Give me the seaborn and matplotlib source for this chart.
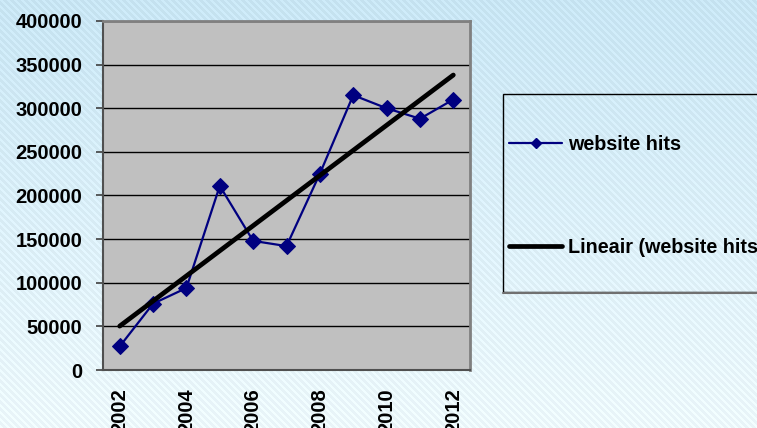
import numpy as np
import pandas as pd
import matplotlib
matplotlib.use("Agg")
import matplotlib.pyplot as plt
from matplotlib.patches import Rectangle
from matplotlib.lines import Line2D
from matplotlib.ticker import FuncFormatter
import seaborn as sns

# Yearly website hits
years = [2002, 2003, 2004, 2005, 2006, 2007, 2008, 2009, 2010, 2011, 2012]
hits = [27000, 76000, 94000, 211000, 148000, 142000, 225000, 315000, 300000, 288000, 310000]
labelled_years = [2002, 2004, 2006, 2008, 2010, 2012]
y_ticks = [0, 50000, 100000, 150000, 200000, 250000, 300000, 350000, 400000]
series_label = "website hits"
trend_label = "Lineair (website hits)"

sns.set_style("white")
plt.rcParams["font.family"] = ["Liberation Sans", "DejaVu Sans"]
plt.rcParams["font.weight"] = "bold"
plt.rcParams["text.color"] = "black"
plt.rcParams["xtick.labelcolor"] = "black"
plt.rcParams["ytick.labelcolor"] = "black"

W, H = 757, 428
fig = plt.figure(figsize=(W / 100, H / 100), dpi=100)

# striped light-blue backdrop
bg = fig.add_axes([0, 0, 1, 1], zorder=-10)
yy, xx = np.mgrid[0:H, 0:W]
t = (yy / (H - 1))[..., None]
top = np.array([0.77, 0.885, 0.94])
bot = np.array([0.915, 0.96, 0.975])
base = top * (1 - t) + bot * t
stripe = (((xx - yy) % 7) < 3)[..., None]
img = np.clip(base + stripe * 0.04, 0, 1)
bg.imshow(img, aspect="auto", interpolation="nearest")
bg.axis("off")

# plot area
ax = fig.add_axes([103 / W, 1 - 370 / H, 367 / W, 349 / H])
ax.set_facecolor("#c0c0c0")

df = pd.DataFrame({"pos": np.arange(len(years)), "hits": hits})
sns.lineplot(data=df, x="pos", y="hits", ax=ax, color="#000080", lw=1.6,
             marker="D", markersize=8.5, markeredgecolor="#000080",
             legend=False, zorder=3)
sns.regplot(data=df, x="pos", y="hits", ax=ax, scatter=False, ci=None,
            color="black", truncate=True,
            line_kws=dict(lw=3.4, solid_capstyle="round", zorder=4))

ax.set_xlim(-0.5, len(years) - 0.5)
ax.set_ylim(0, 400000)
ax.set_yticks(y_ticks)
ax.yaxis.set_major_formatter(FuncFormatter(lambda v, p: f"{int(v)}"))
ax.yaxis.grid(True, color="black", lw=1)
ax.xaxis.grid(False)
ax.set_axisbelow(True)

ax.set_xticks([years.index(y) for y in labelled_years])
ax.set_xticklabels([str(y) for y in labelled_years])
ax.set_xticks(np.arange(-0.5, len(years), 1), minor=True)
ax.tick_params(axis="x", which="major", length=0, pad=13, labelsize=14.5,
               labelrotation=90, labelcolor="black")
ax.tick_params(axis="x", which="minor", length=5, width=1.2, color="#404040",
               direction="out")
ax.tick_params(axis="y", length=5, width=1.2, color="#404040", pad=10,
               labelsize=14.5, direction="out", left=True, labelcolor="black")
ax.set_xlabel("")
ax.set_ylabel("")

for side in ("left", "bottom"):
    ax.spines[side].set_color("#505050")
    ax.spines[side].set_linewidth(1.5)
for side in ("top", "right"):
    ax.spines[side].set_color("#808080")
    ax.spines[side].set_linewidth(2)

# legend box
fig.add_artist(Rectangle((503 / W, 1 - 292 / H), 300 / W, 198 / H,
                         transform=fig.transFigure, fill=False,
                         ec="black", lw=1))
fig.add_artist(Line2D([503 / W, 1.0], [1 - 292.5 / H, 1 - 292.5 / H],
                      transform=fig.transFigure, color="#707070", lw=1.5))

handles = [
    Line2D([], [], color="#000080", lw=1.6, marker="D", markersize=5),
    Line2D([], [], color="black", lw=3.4, solid_capstyle="round"),
]
fig.legend(handles, [series_label, trend_label], loc="upper left",
           bbox_to_anchor=(509 / W, 1 - 135 / H), frameon=False,
           prop=dict(size=14.2, weight="bold"), handlelength=2.7,
           handletextpad=0.3, labelspacing=4.25, borderpad=0,
           borderaxespad=0, labelcolor="black")

fig.savefig("out.png", dpi=100)
